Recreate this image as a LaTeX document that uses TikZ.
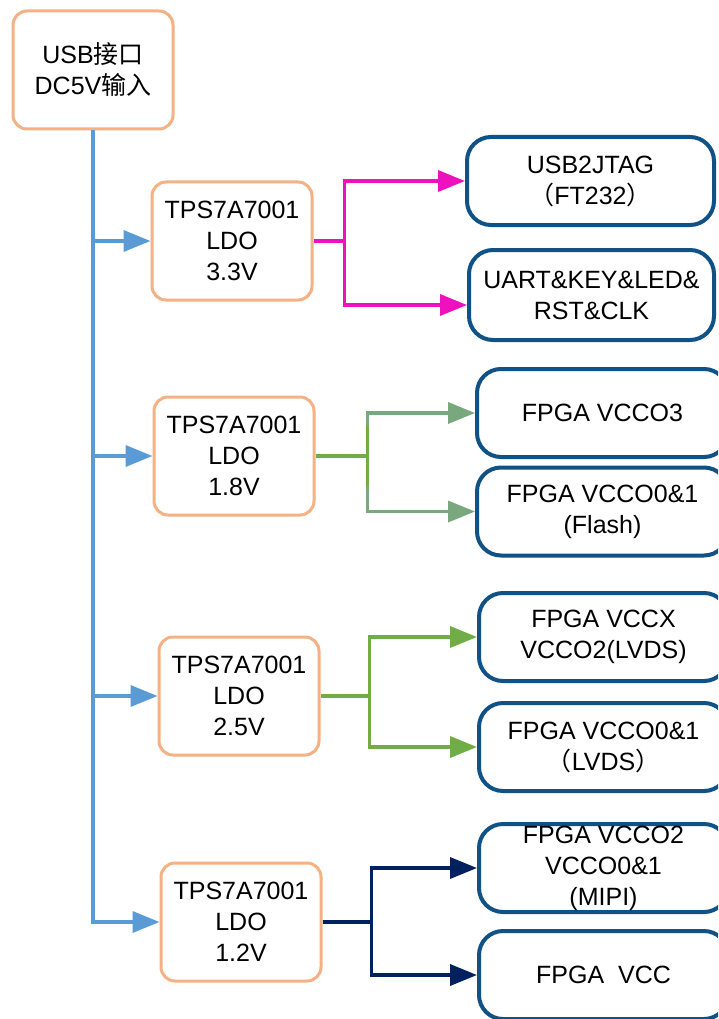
\documentclass[tikz,border=0pt]{standalone}
\usepackage{fontspec}
\setmainfont{Liberation Sans}
\newfontfamily\cjk{Noto Sans CJK SC}
\usetikzlibrary{arrows.meta}
\definecolor{ldoorange}{RGB}{244,177,131}
\definecolor{loadblue}{RGB}{16,82,134}
\definecolor{trunkblue}{RGB}{91,155,213}
\definecolor{railpink}{RGB}{238,18,190}
\definecolor{railgreen}{RGB}{112,173,71}
\definecolor{railsage}{RGB}{122,168,126}
\definecolor{railnavy}{RGB}{0,32,96}

\begin{document}
\begin{tikzpicture}[x=1pt,y=-1pt,
    font=\fontsize{25}{31}\selectfont,
    ldo/.style={draw=ldoorange,line width=3pt,rounded corners=14pt,align=center,
        minimum width=160pt,minimum height=118pt,inner sep=0pt},
    load/.style={draw=loadblue,line width=4pt,rounded corners=24pt,align=center,
        minimum height=88pt,inner sep=0pt},
    wire/.style={line width=3.5pt},
    rail/.style={wire,-{Triangle[length=27pt,width=21pt]}}]
    \useasboundingbox (0,0) rectangle (718,1019);
    \fill[white] (0,0) rectangle (718,1019);
    \clip (0,0) rectangle (718,1019);

    \node[ldo] (usb) at (93,70) {USB{\cjk 接口}\\DC5V{\cjk 输入}};
    \node[ldo] (ldoA) at (232,241) {TPS7A7001\\LDO\\3.3V};
    \node[ldo] (ldoB) at (234,456) {TPS7A7001\\LDO\\1.8V};
    \node[ldo] (ldoC) at (239,696) {TPS7A7001\\LDO\\2.5V};
    \node[ldo] (ldoD) at (241,922) {TPS7A7001\\LDO\\1.2V};

    \node[load,minimum width=247pt] (jtag) at (590.5,181) {USB2JTAG\\{\cjk （}FT232{\cjk ）}};
    \node[load,minimum width=245pt,minimum height=90pt] (uart) at (591.5,295) {UART\&KEY\&LED\&\\RST\&CLK};
    \node[load,minimum width=251pt] (vccoB) at (602.5,413) {FPGA VCCO3};
    \node[load,minimum width=251pt] (flash) at (602.5,511.5) {FPGA VCCO0\&1\\(Flash)};
    \node[load,minimum width=249pt] (vccx) at (603.5,637) {FPGA VCCX\\VCCO2(LVDS)};
    \node[load,minimum width=249pt] (lvds) at (603.5,747) {FPGA VCCO0\&1\\{\cjk （}LVDS{\cjk ）}};
    \node[load,minimum width=249pt] (mipi) at (603.5,868) {FPGA VCCO2\\VCCO0\&1\\(MIPI)};
    \node[load,minimum width=249pt] (vcc) at (603.5,975) {FPGA~ VCC};

    \draw[rail,trunkblue] (usb.south) |- (ldoD.west);
    \foreach \n in {ldoA,ldoB,ldoC}
        \draw[rail,trunkblue] (usb.south |- \n.west) -- (\n.west);

    \draw[wire,railpink] (ldoA.east) -- ++(31,0) coordinate (jA);
    \draw[rail,railpink] (jA) |- (jtag.west);
    \draw[rail,railpink] (jA) |- ([yshift=-10pt]uart.west);

    \draw[wire,railgreen] (ldoB.east) -- ++(52,0) coordinate (jB);
    \draw[rail,railsage] (jB) |- (vccoB.west);
    \draw[rail,railsage] (jB) |- (flash.west);
    \draw[wire,railgreen] (jB) -- ++(0,-30) (jB) -- ++(0,30);

    \draw[wire,railgreen] (ldoC.east) -- ++(49,0) coordinate (jC);
    \draw[rail,railgreen] (jC) |- (vccx.west);
    \draw[rail,railgreen] (jC) |- (lvds.west);

    \draw[wire,railnavy] (ldoD.east) -- ++(49,0) coordinate (jD);
    \draw[rail,railnavy] (jD) |- (mipi.west);
    \draw[rail,railnavy] (jD) |- (vcc.west);
\end{tikzpicture}
\end{document}
